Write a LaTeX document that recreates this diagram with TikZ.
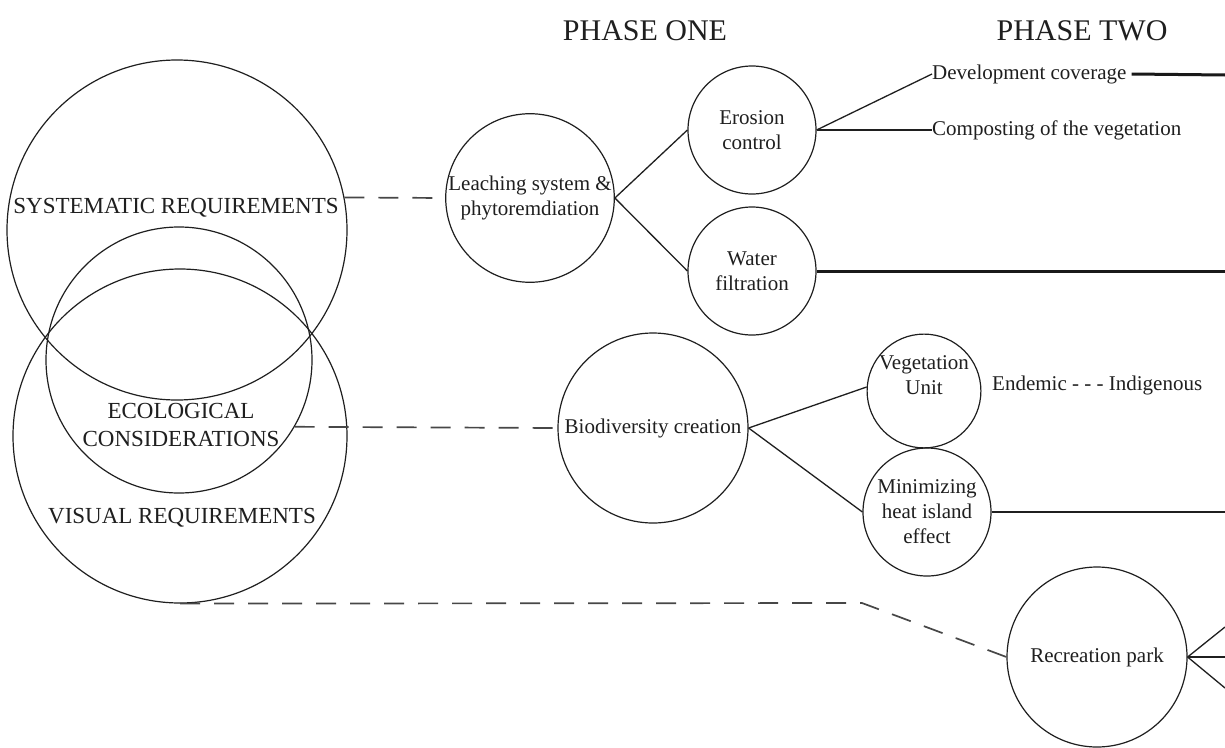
\documentclass[tikz,border=0pt]{standalone}
\usepackage{fontspec}
\setmainfont{Liberation Serif}
\newcommand\mynodefont{\fontsize{21}{25}\selectfont}
\newcommand\mycapfont{\fontsize{23}{28}\selectfont}
\newcommand\myheadfont{\fontsize{30}{34}\selectfont}
\begin{document}
\begin{tikzpicture}[x=1pt,y=-1pt,
  bubble/.style={circle, draw=black!88, line width=1.2pt, inner sep=0pt, align=center, font=\mynodefont, text=black!88},
  bigring/.style={circle, draw=black!88, line width=1.2pt, inner sep=0pt},
  captext/.style={font=\mycapfont, text=black!88, align=center, inner sep=0pt},
  lbl/.style={font=\mynodefont, text=black!88, inner sep=0pt},
  head/.style={font=\myheadfont, text=black!88, inner sep=0pt},
  thin/.style={draw=black!88, line width=1.3pt},
  thick/.style={draw=black!90, line width=3pt},
  dashline/.style={draw=black!72, line width=1.7pt, dash pattern=on 20pt off 14pt}]
\useasboundingbox (0,0) rectangle (1225,747);
\fill[white] (0,0) rectangle (1225,747);

% headings
\node[head] (ph1) at (645,31) {PHASE ONE};
\node[head] (ph2) at (1082,31) {PHASE TWO};

% big circles
\node[bigring, minimum size=340pt] (sys) at (177,230) {};
\node[bigring, minimum size=266pt] (eco) at (179,360) {};
\node[bigring, minimum size=334pt] (vis) at (180,436) {};
\node[captext] (systxt) at (176,208) {SYSTEMATIC REQUIREMENTS};
\node[captext] (ecotxt) at (181,425) {ECOLOGICAL\\CONSIDERATIONS};
\node[captext] (vistxt) at (182,518) {VISUAL REQUIREMENTS};

% phase one nodes
\node[bubble, minimum size=168pt] (leach) at (530,198) {Leaching system \&\\phytoremdiation};
\node[bubble, minimum size=128pt] (ero) at (752,130) {Erosion\\control};
\node[bubble, minimum size=128pt] (wat) at (752,271) {Water\\filtration};
\node[bubble, minimum size=190pt] (bio) at (653,428) {Biodiversity creation};
\node[bubble, minimum size=104pt] (veg) at (924,391) {Vegetation\\Unit\\[6pt]};
\node[bubble, minimum size=128pt] (min) at (927,512) {Minimizing\\heat island\\effect};
\node[bubble, minimum size=180pt] (rec) at (1097,657) {Recreation park};

% labels
\node[lbl, anchor=west] (dev) at (932,74) {Development coverage};
\node[lbl, anchor=west] (comp) at (932,130) {Composting of the vegetation};
\node[lbl, anchor=west] (end) at (992,385) {Endemic - - - Indigenous};

% free ends at the right edge
\coordinate (e1) at (1225,75);
\coordinate (e2) at (1225,271);
\coordinate (e3) at (1225,512);
\coordinate (e4) at (1225,627);
\coordinate (e5) at (1225,657);
\coordinate (e6) at (1225,688);
\coordinate (bend) at (862,603);

% dashed links
\draw[dashline] (sys.11) -- (leach.west);
\draw[dashline] (eco.-30.7) -- (bio.west);
\draw[dashline] (vis.south) -- (bend) -- (rec.west);

% solid links
\draw[thin] (leach.east) -- (ero.west);
\draw[thin] (leach.east) -- (wat.west);
\draw[thin] (ero.east) -- (dev.west);
\draw[thin] (ero.east) -- (comp.west);
\draw[thick] ([xshift=5pt]dev.east) -- (e1);
\draw[thick] (wat.east) -- (e2);
\draw[thin] (bio.east) -- (veg.176);
\draw[thin] (bio.east) -- (min.west);
\draw[thin] (min.east) -- (e3);
\draw[thin] (rec.east) -- (e4);
\draw[thin] (rec.east) -- (e5);
\draw[thin] (rec.east) -- (e6);
\end{tikzpicture}
\end{document}
